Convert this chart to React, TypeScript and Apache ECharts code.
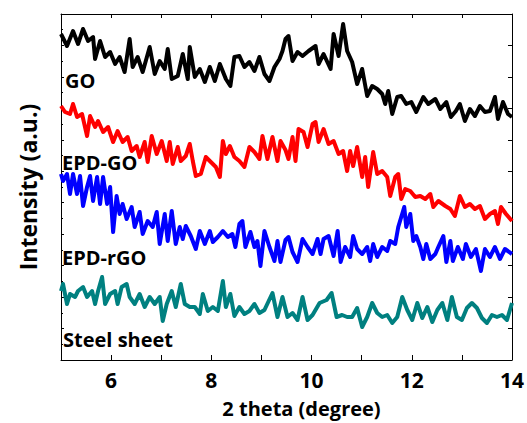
import React, { useEffect, useRef } from "react";
import * as echarts from "echarts";

// 2θ (degree), intensity (a.u.) pairs
const goData: [number, number][] = [
  [5.0, 326], [5.12, 314], [5.24, 329], [5.34, 316], [5.44, 331], [5.54, 319], [5.64, 323], [5.68, 301],
  [5.78, 319], [5.88, 303], [5.98, 308], [6.08, 296], [6.17, 303], [6.27, 288], [6.37, 321], [6.43, 293],
  [6.53, 303], [6.63, 288], [6.77, 313], [6.87, 286], [6.97, 299], [7.07, 291], [7.13, 311], [7.21, 281],
  [7.33, 284], [7.43, 306], [7.53, 281], [7.57, 313], [7.67, 283], [7.77, 291], [7.87, 278], [7.97, 293],
  [8.07, 279], [8.17, 296], [8.29, 281], [8.38, 274], [8.46, 303], [8.56, 304], [8.66, 293], [8.76, 298],
  [8.86, 289], [8.96, 303], [9.06, 286], [9.16, 279], [9.26, 293], [9.36, 301], [9.42, 309], [9.48, 321],
  [9.54, 324], [9.62, 299], [9.72, 308], [9.82, 304], [9.94, 309], [10.08, 314], [10.14, 296], [10.24, 306],
  [10.38, 291], [10.44, 326], [10.54, 304], [10.63, 336], [10.71, 309], [10.81, 298], [10.91, 276], [11.01, 291],
  [11.11, 264], [11.21, 274], [11.31, 271], [11.41, 266], [11.47, 256], [11.53, 269], [11.61, 246], [11.71, 263],
  [11.79, 264], [11.89, 256], [11.99, 258], [12.09, 248], [12.23, 263], [12.33, 256], [12.47, 261], [12.57, 251],
  [12.69, 258], [12.78, 243], [12.88, 249], [12.96, 256], [13.06, 239], [13.16, 251], [13.26, 244], [13.36, 254],
  [13.46, 248], [13.56, 249], [13.66, 263], [13.72, 241], [13.82, 258], [13.92, 246], [14.0, 243],
];

const epdGoData: [number, number][] = [
  [5.0, 254], [5.08, 248], [5.18, 246], [5.24, 256], [5.32, 243], [5.42, 246], [5.52, 224], [5.58, 244],
  [5.68, 233], [5.74, 239], [5.84, 228], [5.94, 233], [6.04, 218], [6.13, 229], [6.23, 218], [6.33, 223],
  [6.41, 209], [6.51, 214], [6.57, 203], [6.67, 218], [6.73, 198], [6.81, 224], [6.91, 206], [7.01, 219],
  [7.11, 199], [7.17, 218], [7.23, 196], [7.33, 213], [7.39, 199], [7.49, 204], [7.57, 216], [7.63, 199],
  [7.69, 184], [7.79, 186], [7.89, 203], [7.99, 198], [8.09, 193], [8.17, 183], [8.23, 219], [8.29, 206],
  [8.37, 214], [8.46, 203], [8.56, 199], [8.66, 193], [8.76, 213], [8.86, 208], [8.96, 201], [9.02, 224],
  [9.12, 201], [9.22, 223], [9.32, 199], [9.38, 219], [9.48, 210], [9.54, 201], [9.62, 223], [9.68, 199],
  [9.74, 231], [9.84, 228], [9.92, 213], [10.02, 236], [10.08, 238], [10.14, 218], [10.24, 231], [10.34, 216],
  [10.44, 219], [10.54, 206], [10.63, 209], [10.71, 189], [10.77, 209], [10.83, 194], [10.91, 213], [11.01, 183],
  [11.07, 203], [11.13, 173], [11.23, 208], [11.31, 186], [11.41, 189], [11.51, 183], [11.57, 164], [11.67, 183],
  [11.73, 186], [11.79, 161], [11.87, 171], [11.97, 169], [12.07, 163], [12.17, 164], [12.27, 161], [12.37, 166],
  [12.43, 153], [12.53, 159], [12.67, 154], [12.77, 151], [12.86, 144], [12.96, 164], [13.06, 153], [13.16, 156],
  [13.26, 151], [13.36, 154], [13.46, 141], [13.56, 146], [13.66, 149], [13.72, 136], [13.78, 153], [13.88, 146],
  [14.0, 139],
];

const epdRgoData: [number, number][] = [
  [5.0, 186], [5.04, 179], [5.12, 186], [5.18, 166], [5.24, 186], [5.32, 166], [5.38, 184], [5.44, 154],
  [5.52, 173], [5.58, 184], [5.64, 159], [5.72, 183], [5.78, 156], [5.84, 183], [5.92, 156], [5.98, 173],
  [6.04, 128], [6.11, 164], [6.17, 146], [6.23, 156], [6.31, 141], [6.41, 153], [6.47, 133], [6.57, 148],
  [6.63, 126], [6.73, 139], [6.83, 133], [6.91, 148], [6.97, 116], [7.07, 146], [7.13, 119], [7.21, 149],
  [7.29, 116], [7.37, 133], [7.43, 121], [7.49, 134], [7.59, 124], [7.69, 111], [7.77, 129], [7.87, 116],
  [7.97, 129], [8.03, 118], [8.13, 123], [8.23, 129], [8.33, 123], [8.42, 126], [8.48, 113], [8.56, 136],
  [8.62, 139], [8.68, 113], [8.78, 128], [8.86, 113], [8.92, 119], [8.98, 94], [9.06, 129], [9.16, 113],
  [9.26, 99], [9.32, 119], [9.38, 98], [9.48, 120], [9.54, 123], [9.62, 108], [9.72, 98], [9.82, 121],
  [9.92, 113], [10.02, 106], [10.12, 121], [10.18, 106], [10.24, 121], [10.34, 124], [10.44, 104], [10.52, 129],
  [10.58, 98], [10.67, 113], [10.77, 103], [10.83, 124], [10.91, 111], [11.01, 106], [11.11, 113], [11.17, 99],
  [11.23, 116], [11.31, 103], [11.41, 113], [11.51, 109], [11.57, 119], [11.67, 116], [11.73, 133], [11.79, 143],
  [11.85, 153], [11.89, 133], [11.97, 146], [12.03, 119], [12.09, 124], [12.17, 113], [12.23, 101], [12.29, 116],
  [12.37, 101], [12.47, 106], [12.53, 113], [12.63, 124], [12.69, 98], [12.77, 119], [12.82, 99], [12.92, 113],
  [13.02, 101], [13.08, 116], [13.18, 103], [13.28, 111], [13.38, 89], [13.46, 111], [13.56, 103], [13.66, 113],
  [13.76, 101], [13.86, 111], [14.0, 106],
];

const steelData: [number, number][] = [
  [5.0, 69], [5.04, 76], [5.12, 56], [5.18, 66], [5.28, 63], [5.34, 69], [5.44, 73], [5.52, 63],
  [5.62, 69], [5.68, 56], [5.74, 69], [5.82, 83], [5.88, 56], [5.98, 66], [6.08, 69], [6.13, 56],
  [6.21, 73], [6.31, 76], [6.37, 63], [6.47, 56], [6.57, 66], [6.67, 53], [6.77, 63], [6.87, 56],
  [6.97, 63], [7.03, 39], [7.11, 56], [7.21, 69], [7.29, 53], [7.39, 76], [7.47, 56], [7.57, 53],
  [7.67, 53], [7.77, 46], [7.83, 66], [7.93, 49], [8.03, 53], [8.13, 49], [8.23, 79], [8.29, 53],
  [8.38, 66], [8.46, 44], [8.56, 53], [8.66, 46], [8.76, 49], [8.86, 56], [8.96, 47], [9.06, 50],
  [9.22, 67], [9.32, 43], [9.42, 63], [9.52, 43], [9.62, 47], [9.72, 40], [9.82, 63], [9.92, 40],
  [10.02, 45], [10.16, 57], [10.3, 60], [10.4, 67], [10.5, 43], [10.61, 45], [10.71, 43], [10.81, 43],
  [10.91, 52], [11.01, 33], [11.11, 43], [11.21, 57], [11.31, 47], [11.41, 43], [11.51, 45], [11.61, 37],
  [11.71, 43], [11.81, 63], [11.91, 50], [12.01, 40], [12.11, 57], [12.21, 42], [12.31, 53], [12.41, 38],
  [12.51, 50], [12.61, 57], [12.71, 40], [12.8, 63], [12.9, 43], [13.0, 40], [13.1, 52], [13.2, 57],
  [13.3, 52], [13.4, 42], [13.5, 37], [13.6, 45], [13.7, 43], [13.8, 45], [13.9, 40], [14.0, 57],
];

const seriesNames = ["GO", "EPD-GO", "EPD-rGO", "Steel sheet"];
const seriesColors = ["#000000", "#ff0000", "#0000ff", "#008080"];
const xMin = 5;
const xMax = 14;
const yMax = 346;
const yTickCount = 11;

const FONT = "'Open Sans', Lato, sans-serif";

export default function App() {
  const ref = useRef<HTMLDivElement>(null);
  useEffect(() => {
    if (!ref.current) return;
    const chart = echarts.init(ref.current, null, { renderer: "svg" });
    const datasets = [goData, epdGoData, epdRgoData, steelData];
    const axisLine = { show: true, onZero: false, lineStyle: { color: "#000", width: 1 } };
    const labelPos = [
      { x: 65, y: 80 },
      { x: 62, y: 162 },
      { x: 62, y: 257 },
      { x: 63, y: 339 },
    ];
    chart.setOption({
      animation: false,
      backgroundColor: "#fff",
      grid: { left: 61, top: 14, right: 14, bottom: 63, containLabel: false },
      xAxis: [
        {
          type: "value",
          min: xMin,
          max: xMax,
          interval: 1,
          position: "bottom",
          axisLine,
          axisTick: { show: true, inside: true, length: 5, lineStyle: { color: "#000" } },
          splitLine: { show: false },
          axisLabel: {
            margin: 9,
            fontFamily: FONT,
            fontWeight: "bold",
            fontSize: 21,
            color: "#000",
            formatter: (v: number) => (v % 2 === 0 ? String(v) : ""),
          },
          name: "2 theta (degree)",
          nameLocation: "middle",
          nameGap: 38,
          nameTextStyle: {
            fontFamily: FONT,
            fontWeight: "bold",
            fontSize: 20,
            color: "#000",
            padding: [0, 0, 0, 30],
          },
        },
        {
          type: "value",
          min: xMin,
          max: xMax,
          interval: 1,
          position: "top",
          axisLine,
          axisTick: { show: true, inside: true, length: 4, lineStyle: { color: "#000" } },
          axisLabel: { show: false },
          splitLine: { show: false },
        },
      ],
      yAxis: [
        {
          type: "value",
          min: 0,
          max: yMax,
          interval: yMax / yTickCount,
          position: "left",
          axisLine,
          axisTick: { show: true, inside: true, length: 3, lineStyle: { color: "#000" } },
          minorTick: { show: true, splitNumber: 2, length: 2, lineStyle: { color: "#000" } },
          axisLabel: { show: false },
          splitLine: { show: false },
          name: "Intensity (a.u.)",
          nameLocation: "middle",
          nameGap: 22,
          nameTextStyle: { fontFamily: FONT, fontWeight: "bold", fontSize: 23, color: "#000" },
        },
        {
          type: "value",
          min: 0,
          max: yMax,
          interval: yMax / yTickCount,
          position: "right",
          axisLine,
          axisTick: { show: true, inside: true, length: 4, lineStyle: { color: "#000" } },
          axisLabel: { show: false },
          splitLine: { show: false },
        },
      ],
      series: datasets.map((d, i) => ({
        name: seriesNames[i],
        type: "line",
        data: d,
        xAxisIndex: 0,
        yAxisIndex: 0,
        showSymbol: false,
        symbol: "none",
        lineStyle: { color: seriesColors[i], width: 4, join: "round" },
        itemStyle: { color: seriesColors[i] },
        z: 2,
      })),
      graphic: seriesNames.map((n, i) => ({
        type: "text",
        x: labelPos[i].x,
        y: labelPos[i].y,
        style: {
          text: n,
          fill: "#000",
          font: `bold 20px ${FONT}`,
          verticalAlign: "middle",
        },
        z: 10,
      })),
    });
    return () => chart.dispose();
  }, []);
  return (
    <div
      ref={ref}
      style={{ position: "fixed", left: 0, top: 0, width: 527, height: 423, background: "#fff" }}
    />
  );
}
